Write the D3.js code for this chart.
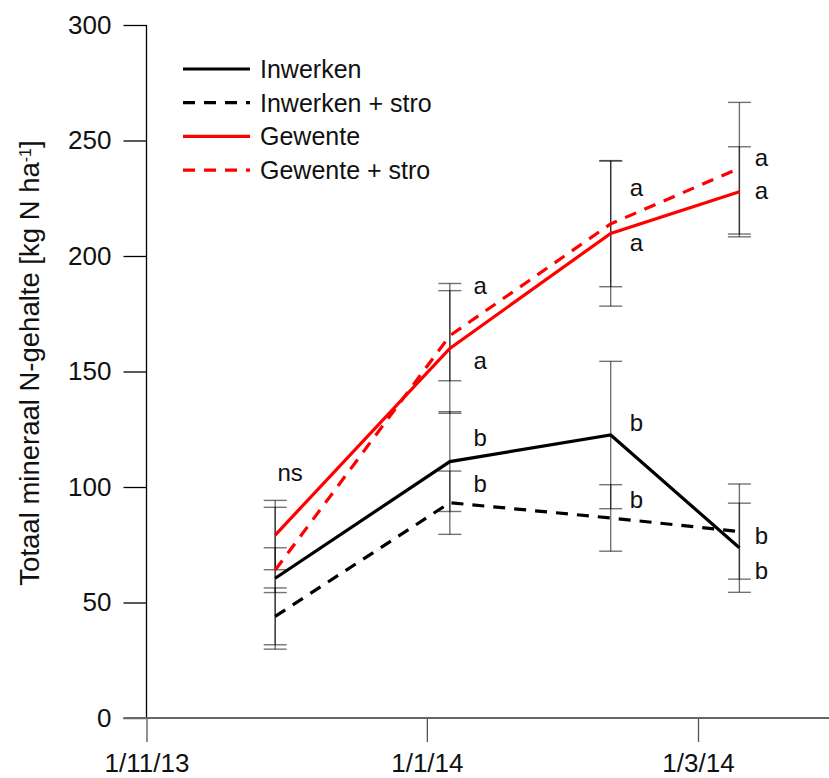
<!DOCTYPE html>
<meta charset="utf-8">
<script src="https://d3js.org/d3.v7.min.js"></script>
<style>
body { margin: 0; background: #fff; }
text { font-family: "Liberation Sans", Arial, sans-serif; }
</style>
<body>
<div id="chart"></div>
<script>

// sampling dates
const dates = ["2013-11-29", "2014-01-06", "2014-02-10", "2014-03-10"];

// means per treatment
const inwerken     = [60.5, 111.0, 122.5, 73.7];
const inwerkenStro = [44.0,  93.2,  86.6, 80.7];
const gewente      = [79.2, 160.0, 209.8, 227.8];
const gewenteStro  = [64.0, 165.5, 213.9, 238.0];

// standard errors
const inwerkenSe     = [30.7, 21.6, 31.9, 19.3];
const inwerkenStroSe = [12.3, 13.7, 14.4, 20.6];
const gewenteSe      = [15.0, 28.1, 31.5, 19.5];
const gewenteStroSe  = [ 9.7, 19.5, 27.2, 28.5];

const seriesNames = ["Inwerken", "Inwerken + stro", "Gewente", "Gewente + stro"];

// significance letters (date, value at baseline, text)
const letterDates  = ["2013-12-02T06:00", "2014-01-12T14:00", "2014-01-12T14:00", "2014-01-12T14:00", "2014-01-12T14:00",
                      "2014-02-15T14:00", "2014-02-15T14:00", "2014-02-15T14:00", "2014-02-15T14:00",
                      "2014-03-14T19:00", "2014-03-14T19:00", "2014-03-14T19:00", "2014-03-14T19:00"];
const letterValues = [102.6, 183.5, 151.1, 117.9, 98.0, 226.0, 202.2, 124.1, 91.1, 239.0, 224.5, 75.5, 60.0];
const letterTexts  = ["ns", "a", "a", "b", "b", "a", "a", "b", "b", "a", "a", "b", "b"];

// axis ticks
const yTicks = [0, 50, 100, 150, 200, 250, 300];
const yMinorTicks = [25, 75, 125, 175, 225, 275];
const xTicks = ["2013-11-01", "2014-01-01", "2014-03-01"];
const xMinorTicks = ["2013-12-01T12:00", "2014-01-30T12:00"];
const xDomain = ["2013-11-01", "2014-03-29T12:00"];

const W = 829, H = 778;
const parse = s => new Date(s.length > 10 ? s : s + "T00:00");

const svg = d3.select("#chart").append("svg")
    .attr("width", W)
    .attr("height", H);

const x = d3.scaleTime()
    .domain(xDomain.map(parse))
    .range([146.5, W]);
const y = d3.scaleLinear()
    .domain([0, 300])
    .range([718, 25]);

const color = ["#000", "#000", "#ff0000", "#ff0000"];
const dash = [null, "12,9", null, "12,9"];
const means = [inwerken, inwerkenStro, gewente, gewenteStro];
const ses = [inwerkenSe, inwerkenStroSe, gewenteSe, gewenteStroSe];

const series = seriesNames.map((name, i) => ({
  name: name,
  color: color[i],
  dash: dash[i],
  values: dates.map((d, j) => ({date: parse(d), v: means[i][j], se: ses[i][j]}))
}));

// y axis
const yAxisG = svg.append("g").attr("transform", `translate(${x.range()[0]},0)`);
yAxisG.call(d3.axisLeft(y).tickValues(yMinorTicks).tickSize(12).tickFormat(""));
yAxisG.call(d3.axisLeft(y).tickValues(yTicks).tickSize(23).tickPadding(12));
yAxisG.selectAll("path").remove();
yAxisG.selectAll("line").attr("stroke", "#000").attr("stroke-width", 1.3);
yAxisG.selectAll("text").style("font-size", "26px").attr("fill", "#111");
yAxisG.append("line")
    .attr("y1", y(300)).attr("y2", y(0))
    .attr("stroke", "#000").attr("stroke-width", 1.3);

// x axis
const xAxisG = svg.append("g").attr("transform", `translate(0,${y(0)})`);
xAxisG.call(d3.axisBottom(x).tickValues(xMinorTicks.map(parse)).tickSize(12).tickFormat(""));
xAxisG.call(d3.axisBottom(x).tickValues(xTicks.map(parse)).tickSize(24).tickPadding(12)
    .tickFormat(d3.timeFormat("%-d/%-m/%y")));
xAxisG.selectAll("path").remove();
xAxisG.selectAll("line").attr("stroke", "#555").attr("stroke-width", 1.3);
xAxisG.selectAll("text").style("font-size", "26px").attr("fill", "#111");
xAxisG.append("line")
    .attr("x1", x.range()[0] - 23).attr("x2", W)
    .attr("stroke", "#666").attr("stroke-width", 2);

// y label
svg.append("text")
    .attr("transform", "translate(39,363) rotate(-90)")
    .attr("text-anchor", "middle")
    .style("font-size", "27.5px")
    .attr("fill", "#111")
    .text("Totaal mineraal N-gehalte [kg N ha")
  .append("tspan")
    .attr("baseline-shift", "super")
    .style("font-size", "16px")
    .text("-1")
  .select(function() { return this.parentNode; })
  .append("tspan")
    .text("]");

// error bars
const capW = 11.5;
const eb = svg.append("g")
    .attr("stroke", "#000")
    .attr("stroke-opacity", 0.55)
    .attr("stroke-width", 1.4);
series.forEach(s => {
  s.values.forEach(p => {
    const cx = x(p.date);
    eb.append("line").attr("x1", cx).attr("x2", cx)
      .attr("y1", y(p.v + p.se)).attr("y2", y(p.v - p.se));
    [p.v + p.se, p.v - p.se].forEach(v => {
      eb.append("line").attr("x1", cx - capW).attr("x2", cx + capW)
        .attr("y1", y(v)).attr("y2", y(v));
    });
  });
});

// lines
const line = d3.line().x(d => x(d.date)).y(d => y(d.v));
svg.selectAll(".series")
  .data(series)
  .join("path")
    .attr("class", "series")
    .attr("d", d => line(d.values))
    .attr("fill", "none")
    .attr("stroke", d => d.color)
    .attr("stroke-width", 3.2)
    .attr("stroke-dasharray", d => d.dash);

// letters
svg.selectAll(".letter")
  .data(letterTexts)
  .join("text")
    .attr("class", "letter")
    .attr("x", (d, i) => x(parse(letterDates[i])))
    .attr("y", (d, i) => y(letterValues[i]))
    .attr("text-anchor", "middle")
    .style("font-size", "24px")
    .attr("fill", "#111")
    .text(d => d);

// legend
const legend = svg.append("g");
series.forEach((s, i) => {
  const ly = 69 + i * 33.7;
  legend.append("line")
    .attr("x1", 183).attr("x2", 250)
    .attr("y1", ly).attr("y2", ly)
    .attr("stroke", s.color)
    .attr("stroke-width", 3.2)
    .attr("stroke-dasharray", s.dash);
  legend.append("text")
    .attr("x", 260).attr("y", ly)
    .attr("dy", "0.36em")
    .style("font-size", "25px")
    .attr("fill", "#111")
    .text(s.name);
});

</script>
</body>
